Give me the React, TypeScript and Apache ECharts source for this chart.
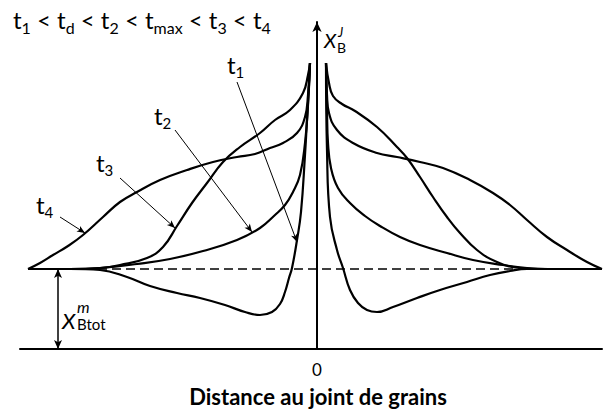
import React, { useEffect, useRef } from "react";
import * as echarts from "echarts";

// distance from the grain boundary (x) and solute content (y), baseline = 80
const baseline = 80;
const xExtent = [-297, 285];
const yExtent = [0, 327];

const t1Left = [[-289,80],[-247,80],[-217,79],[-190,72],[-167,63],[-140,56],[-117,51],[-92,44],[-72,37],[-57,34],[-45,37],[-37,45],[-32,57],[-28,71],[-25,81],[-20,109],[-16,137],[-12,194],[-10,229],[-8,264],[-7,286]];
const t1Right = [[9,286],[10,199],[13,132],[20,99],[26,81],[33,59],[41,46],[50,39],[60,37],[76,42],[100,51],[123,59],[150,67],[173,74],[193,78],[210,80],[231,80],[285,80]];

const t2Left = [[-289,80],[-247,80],[-217,81],[-180,85],[-147,90],[-114,98],[-80,109],[-57,121],[-42,134],[-32,144],[-24,157],[-17,174],[-12,206],[-9,244],[-7,286]];
const t2Right = [[9,286],[10,239],[11,206],[14,181],[21,161],[33,146],[48,133],[63,123],[83,112],[103,104],[130,96],[156,89],[186,84],[210,81],[231,80],[285,80]];

const t3Left = [[-289,80],[-247,80],[-217,81],[-197,84],[-170,91],[-154,102],[-140,123],[-125,146],[-110,166],[-94,187],[-77,202],[-57,216],[-42,229],[-27,239],[-14,256],[-9,274],[-7,286]];
const t3Right = [[9,286],[12,266],[16,253],[25,245],[38,238],[60,222],[80,202],[90,191],[103,172],[116,152],[130,132],[143,116],[160,99],[180,87],[203,81],[228,80],[285,80]];

const t4Left = [[-289,80],[-277,86],[-264,94],[-249,103],[-234,114],[-214,132],[-197,147],[-180,157],[-157,169],[-130,179],[-104,187],[-80,192],[-62,195],[-47,201],[-34,206],[-20,216],[-12,232],[-9,254],[-7,286]];
const t4Right = [[9,286],[10,254],[12,236],[20,219],[36,206],[60,196],[80,192],[103,187],[126,181],[153,169],[176,156],[193,144],[210,129],[230,112],[250,99],[270,87],[285,80]];

// leader arrows: [from, to] for t1..t4 labels
const leaders = [
  [[-80, 267], [-20, 107]],
  [[-142, 219], [-65, 117]],
  [[-197, 171], [-142, 121]],
  [[-257, 132], [-232, 116]],
];
const baseArrowX = -259;
const xTickLabels = [0];

const FONT = "Lato, Carlito, 'Open Sans', sans-serif";

function curve(data: number[][]) {
  return {
    type: "line",
    data,
    smooth: 0.45,
    showSymbol: false,
    silent: true,
    lineStyle: { color: "#000", width: 2.2 },
    z: 3,
  };
}

function tLabel(sub: string, x: number, y: number) {
  return {
    type: "text",
    x,
    y,
    style: {
      text: `{m|t}{s|${sub}}`,
      verticalAlign: "middle",
      fill: "#000",
      rich: {
        m: { fontSize: 24, fontFamily: FONT, fill: "#000" },
        s: { fontSize: 15, fontFamily: FONT, fill: "#000", padding: [16, 0, 0, 0] },
      },
    },
  };
}

export default function App() {
  const ref = useRef<HTMLDivElement>(null);
  useEffect(() => {
    const chart = echarts.init(ref.current!, null, { renderer: "svg" });
    const option: any = {
      animation: false,
      backgroundColor: "#fff",
      grid: { left: 20, top: 22, width: 582, height: 327 },
      xAxis: {
        type: "value",
        min: xExtent[0],
        max: xExtent[1],
        axisLine: { onZero: false, lineStyle: { color: "#000", width: 2 } },
        axisTick: { show: false },
        splitLine: { show: false },
        axisLabel: {
          customValues: xTickLabels,
          color: "#000",
          fontSize: 17,
          fontFamily: FONT,
          margin: 12,
        },
        name: "Distance au joint de grains",
        nameLocation: "middle",
        nameGap: 36,
        nameTextStyle: {
          color: "#000",
          fontSize: 22,
          fontWeight: "bold",
          fontFamily: FONT,
          padding: [0, 0, 0, 14],
        },
      },
      yAxis: {
        type: "value",
        min: yExtent[0],
        max: yExtent[1],
        axisLine: {
          show: true,
          onZero: true,
          symbol: ["none", "arrow"],
          symbolSize: [7, 10],
          lineStyle: { color: "#000", width: 2 },
        },
        axisTick: { show: false },
        axisLabel: { show: false },
        splitLine: { show: false },
      },
      series: [
        {
          type: "line",
          data: [[t4Left[0][0], baseline], [t4Right[t4Right.length - 1][0], baseline]],
          showSymbol: false,
          silent: true,
          lineStyle: { color: "#000", width: 1.6, type: [9, 5] },
          z: 2,
        },
        curve(t1Left), curve(t1Right),
        curve(t2Left), curve(t2Right),
        curve(t3Left), curve(t3Right),
        curve(t4Left), curve(t4Right),
        {
          type: "line",
          data: [],
          markLine: {
            silent: true,
            symbol: ["none", "arrow"],
            symbolSize: [5, 8],
            label: { show: false },
            lineStyle: { color: "#000", width: 1, type: "solid" },
            data: leaders.map(([a, b]) => [{ coord: a }, { coord: b }]),
          },
        },
        {
          type: "line",
          data: [],
          markLine: {
            silent: true,
            symbol: ["arrow", "arrow"],
            symbolSize: [6, 9],
            label: { show: false },
            lineStyle: { color: "#000", width: 1.5, type: "solid" },
            data: [[{ coord: [baseArrowX, 0] }, { coord: [baseArrowX, baseline] }]],
          },
        },
      ],
      graphic: [
        {
          type: "text",
          x: 13,
          y: 19,
          style: {
            text: "{m|t}{s|1}{m| < t}{s|d}{m| < t}{s|2}{m| < t}{s|max}{m| < t}{s|3}{m| < t}{s|4}",
            verticalAlign: "middle",
            fill: "#000",
            rich: {
              m: { fontSize: 24, fontFamily: FONT, fill: "#000" },
              s: { fontSize: 16, fontFamily: FONT, fill: "#000", padding: [16, 0, 0, 0] },
            },
          },
        },
        tLabel("1", 227, 64),
        tLabel("2", 154, 115),
        tLabel("3", 96, 162),
        tLabel("4", 36, 204),
        { type: "text", x: 324, y: 40, style: { text: "X", fontSize: 20, fontStyle: "italic", fontFamily: FONT, fill: "#000", verticalAlign: "middle" } },
        { type: "text", x: 338, y: 32, style: { text: "J", fontSize: 13, fontStyle: "italic", fontFamily: FONT, fill: "#000", verticalAlign: "middle" } },
        { type: "text", x: 337, y: 47, style: { text: "B", fontSize: 14, fontFamily: FONT, fill: "#000", verticalAlign: "middle" } },
        { type: "text", x: 62, y: 320, style: { text: "X", fontSize: 22, fontStyle: "italic", fontFamily: FONT, fill: "#000", verticalAlign: "middle" } },
        { type: "text", x: 77, y: 306, style: { text: "m", fontSize: 16, fontStyle: "italic", fontFamily: FONT, fill: "#000", verticalAlign: "middle" } },
        { type: "text", x: 77, y: 324, style: { text: "Btot", fontSize: 15, fontFamily: FONT, fill: "#000", verticalAlign: "middle" } },
      ],
    };
    chart.setOption(option);
    return () => chart.dispose();
  }, []);
  return <div ref={ref} style={{ position: "fixed", left: 0, top: 0, width: 604, height: 414 }} />;
}
